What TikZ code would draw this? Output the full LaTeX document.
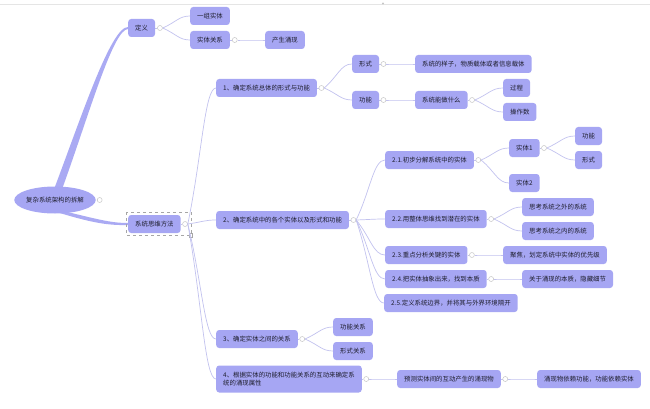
\documentclass[tikz,border=0pt]{standalone}
\usepackage{fontspec}
\newfontfamily\cjk{Noto Sans CJK SC}
\usetikzlibrary{positioning,calc,shapes.geometric,backgrounds}
\definecolor{boxfill}{RGB}{166,166,243}
\definecolor{linkcol}{RGB}{194,194,238}
\definecolor{trunkcol}{RGB}{170,170,243}
\definecolor{txtcol}{RGB}{30,30,45}

\tikzset{
  box/.style={fill=boxfill, rounded corners=3pt, anchor=west, minimum height=18pt,
    inner xsep=7pt, inner ysep=2pt, text=txtcol, font=\cjk\fontsize{6.4}{7.8}\selectfont},
  knob/.style={circle, draw=gray!45, fill=white, line width=0.5pt, minimum size=5pt, inner sep=0pt},
  stub/.style={draw=linkcol, line width=0.7pt},
  link/.style={stub, to path={let \p1=(\tikztostart), \p2=(\tikztotarget) in
    .. controls ({0.5*\x1+0.5*\x2},{0.5*\y1+0.5*\y2}) and ({0.4*\x1+0.6*\x2},\y2) .. (\tikztotarget) \tikztonodes}},
}

\begin{document}
\begin{tikzpicture}[x=1pt,y=1pt]
    \useasboundingbox (0,0) rectangle (650,-409);
    \draw[gray!20, line width=0.8pt] (0,-4.5) -- (650,-4.5);
    \fill[gray!45] (383,-3.5) circle (1.2);

    % root and first level
    \node[ellipse, fill=boxfill, minimum width=77pt, minimum height=27pt, inner sep=0pt,
      text=txtcol, font=\cjk\fontsize{6.4}{7.8}\selectfont] (root) at (55,-200) {复杂系统架构的拆解};
    \node[knob, right=1pt of root] (k-root) {};
    \node[box] (def) at (128,-28) {定义};
    \node[box] (meth) at (128,-224) {系统思维方法};
    \draw[gray!70, dashed, line width=0.4pt] (126,-212) rectangle (191,-235);
    \node[draw=gray!70, fill=white, line width=0.4pt, minimum size=3.5pt, inner sep=0pt] (grip) at (190.5,-235) {};

    % definition
    \node[box] (grp) at (190,-16) {一组实体};
    \node[box] (rel) at (190,-40) {实体关系};
    \node[box] (emerg) at (265,-40) {产生涌现};

    % method, step 1
    \node[box] (s1) at (216,-88) {1、确定系统总体的形式与功能};
    \node[box] (form) at (352,-64) {形式};
    \node[box] (formtxt) at (415,-64) {系统的样子，物质载体或者信息载体};
    \node[box] (func) at (352,-100) {功能};
    \node[box] (functxt) at (415,-100) {系统能做什么};
    \node[box] (proc) at (503,-88) {过程};
    \node[box] (oper) at (503,-112) {操作数};

    % step 2
    \node[box] (s2) at (216,-220) {2、确定系统中的各个实体以及形式和功能};
    \node[box] (s21) at (385,-160) {2.1.初步分解系统中的实体};
    \node[box] (ent1) at (509,-148) {实体1};
    \node[box] (ent1f) at (575,-136) {功能};
    \node[box] (ent1s) at (575,-160) {形式};
    \node[box] (ent2) at (509,-183) {实体2};
    \node[box] (s22) at (385,-219) {2.2.用整体思维找到潜在的实体};
    \node[box] (sysout) at (522,-207) {思考系统之外的系统};
    \node[box] (sysin) at (522,-231) {思考系统之内的系统};
    \node[box] (s23) at (385,-255) {2.3.重点分析关键的实体};
    \node[box] (focus) at (503,-255) {聚焦，划定系统中实体的优先级};
    \node[box] (s24) at (385,-279) {2.4.把实体抽象出来，找到本质};
    \node[box] (essence) at (522,-279) {关于涌现的本质，隐藏细节};
    \node[box] (s25) at (384,-303) {2.5.定义系统边界，并将其与外界环境隔开};

    % steps 3 and 4
    \node[box] (s3) at (216,-339) {3、确定实体之间的关系};
    \node[box] (frel) at (333,-327) {功能关系};
    \node[box] (srel) at (333,-351) {形式关系};
    \node[box, minimum height=27pt, align=left] (s4) at (216,-379)
      {4、根据实体的功能和功能关系的互动来确定系\\统的涌现属性};
    \node[box] (predict) at (397,-379) {预测实体间的互动产生的涌现物};
    \node[box] (depend) at (537,-379) {涌现物依赖功能，功能依赖实体};

    % collapse knobs
    \node[knob, right=2pt of def] (k-def) {};
    \node[knob, right=2pt of rel] (k-rel) {};
    \node[knob, right=1.5pt of s1] (k-s1) {};
    \node[knob, right=1.5pt of meth] (k-meth) {};
    \node[knob, right=1.5pt of s2] (k-s2) {};
    \node[knob, right=1.5pt of form] (k-form) {};
    \node[knob, right=1.5pt of func] (k-func) {};
    \node[knob, right=1.5pt of functxt] (k-functxt) {};
    \node[knob, right=1.5pt of s21] (k-s21) {};
    \node[knob, right=1.5pt of ent1] (k-ent1) {};
    \node[knob, right=1.5pt of s22] (k-s22) {};
    \node[knob, right=1.5pt of s23] (k-s23) {};
    \node[knob, right=1.5pt of s24] (k-s24) {};
    \node[knob, right=1.5pt of s3] (k-s3) {};
    \node[knob, right=1.5pt of s4] (k-s4) {};
    \node[knob, right=1.5pt of predict] (k-predict) {};

    \begin{scope}[on background layer]
    % tapered trunks from the root
    \fill[trunkcol] ([xshift=-1pt,yshift=-3pt]root.north) .. controls (82,-115) and (111,-26.8) .. ([yshift=1pt]def.west)
      -- ([yshift=-1pt]def.west) .. controls (113,-29.3) and (89,-115) .. ([xshift=7pt,yshift=-3pt]root.north) -- cycle;
    \fill[trunkcol] ([xshift=-4pt,yshift=3pt]root.-55) .. controls (97,-219) and (110,-223) .. ([yshift=1pt]meth.west)
      -- ([yshift=-1pt]meth.west) .. controls (108,-225.5) and (92,-223) .. ([xshift=-10pt,yshift=2pt]root.-55) -- cycle;
    % stubs to knobs
    \foreach \p in {def,rel,s1,meth,s2,form,func,functxt,s21,ent1,s22,s23,s24,s3,s4,predict}
      \draw[stub] (\p.east) -- (k-\p.west);
    \end{scope}

    % branches
    \draw[link] (k-def.east) to (grp.west);
    \draw[link] (k-def.east) to (rel.west);
    \draw[link] (k-rel.east) to (emerg.west);
    \draw[link] (k-meth.east) to (s1.west);
    \draw[link] (k-meth.east) to (s2.west);
    \draw[link] (k-meth.east) to (s3.west);
    \draw[link] (k-meth.east) to (s4.west);
    \draw[link] (k-s1.east) to (form.west);
    \draw[link] (k-s1.east) to (func.west);
    \draw[link] (k-form.east) to (formtxt.west);
    \draw[link] (k-func.east) to (functxt.west);
    \draw[link] (k-functxt.east) to (proc.west);
    \draw[link] (k-functxt.east) to (oper.west);
    \draw[link] (k-s2.east) to (s21.west);
    \draw[link] (k-s2.east) to (s22.west);
    \draw[link] (k-s2.east) to (s23.west);
    \draw[link] (k-s2.east) to (s24.west);
    \draw[link] (k-s2.east) to (s25.west);
    \draw[link] (k-s21.east) to (ent1.west);
    \draw[link] (k-s21.east) to (ent2.west);
    \draw[link] (k-ent1.east) to (ent1f.west);
    \draw[link] (k-ent1.east) to (ent1s.west);
    \draw[link] (k-s22.east) to (sysout.west);
    \draw[link] (k-s22.east) to (sysin.west);
    \draw[link] (k-s23.east) to (focus.west);
    \draw[link] (k-s24.east) to (essence.west);
    \draw[link] (k-s3.east) to (frel.west);
    \draw[link] (k-s3.east) to (srel.west);
    \draw[link] (k-s4.east) to (predict.west);
    \draw[link] (k-predict.east) to (depend.west);
\end{tikzpicture}
\end{document}
